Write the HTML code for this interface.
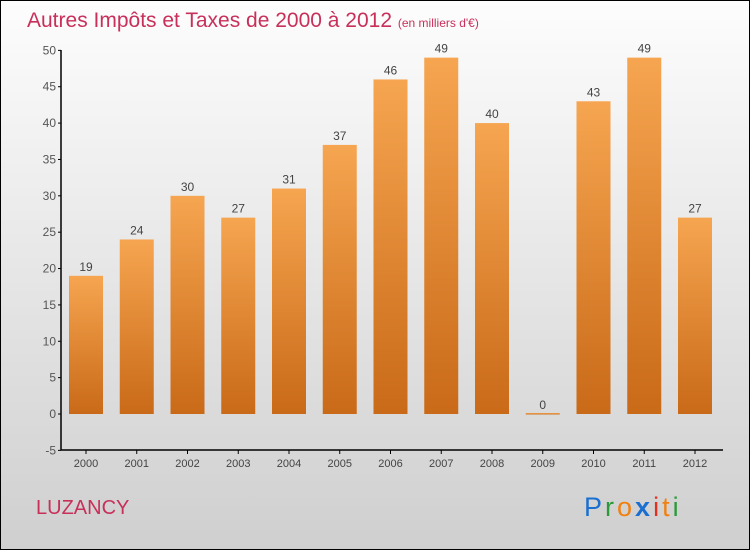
<!DOCTYPE html>
<html><head><meta charset="utf-8"><style>
body{margin:0}
#c{width:748px;height:548px;border:1px solid #000;background:linear-gradient(#fdfdfd,#cfcfcf);position:relative;font-family:"Liberation Sans",sans-serif}
</style></head><body>
<div id="c">
<svg id="s" width="748" height="548" style="position:absolute;left:0;top:0">
<defs><linearGradient id="g" x1="0" y1="0" x2="0" y2="1"><stop offset="0" stop-color="#f6a550"/><stop offset="1" stop-color="#c96a18"/></linearGradient></defs>
<text x="26" y="26" font-size="21" fill="#c8305a">Autres Impôts et Taxes de 2000 à 2012 <tspan font-size="12">(en milliers d'€)</tspan></text>
<text x="35" y="513" font-size="20" fill="#c8305a">LUZANCY</text>
<text x="583" y="515" font-size="27" letter-spacing="3"><tspan fill="#1a6fd0">P</tspan><tspan fill="#2a9a3a">r</tspan><tspan fill="#f08010">o</tspan><tspan fill="#1a6fd0" font-weight="bold">x</tspan><tspan fill="#e03020">i</tspan><tspan fill="#f08010">t</tspan><tspan fill="#2a9a3a">i</tspan></text>
<g id="plot"></g>
</svg>
</div>
<script>
const categories=["2000","2001","2002","2003","2004","2005","2006","2007","2008","2009","2010","2011","2012"];
const values=[19,24,30,27,31,37,46,49,40,0,43,49,27];
const yTicks=[-5,0,5,10,15,20,25,30,35,40,45,50];
const NS="http://www.w3.org/2000/svg";
const g=document.getElementById("plot");
const y=v=>413-(v*400/55);
const x=i=>85+i*50.75;
function mk(t,a){const e=document.createElementNS(NS,t);for(const k in a)e.setAttribute(k,a[k]);g.appendChild(e);return e;}
let ax=mk("line",{x1:60,y1:49,x2:60,y2:449,stroke:"#000","stroke-width":1.5});


let xa=mk("line",{x1:60,y1:449,x2:722,y2:449,stroke:"#000","stroke-width":1.5});


yTicks.forEach(t=>{
 const tk=mk("line",{x1:57,y1:y(t),x2:60,y2:y(t),stroke:"#000"});
 
 
 const l=mk("text",{x:55,y:y(t)+4,"font-size":12,fill:"#555","text-anchor":"end"});
 l.textContent=t;
 
 
});
categories.forEach((c,i)=>{
 const v=values[i];const top=y(Math.max(v,0));const h=Math.max(Math.abs(y(v)-y(0)),1.5);
 const b=mk("rect",{x:x(i)-17,y:v>0?top:y(0)-1,width:34,height:h,fill:"url(#g)"});
 
 
 const vl=mk("text",{x:x(i),y:(v>0?top:y(0))-5,"font-size":12,fill:"#444","text-anchor":"middle"});
 vl.textContent=v;
 
 
 const tk=mk("line",{x1:x(i),y1:449,x2:x(i),y2:453,stroke:"#000"});
 
 
 const xl=mk("text",{x:x(i),y:466,"font-size":11,fill:"#444","text-anchor":"middle"});
 xl.textContent=c;
 
 
});
</script>
</body></html>
